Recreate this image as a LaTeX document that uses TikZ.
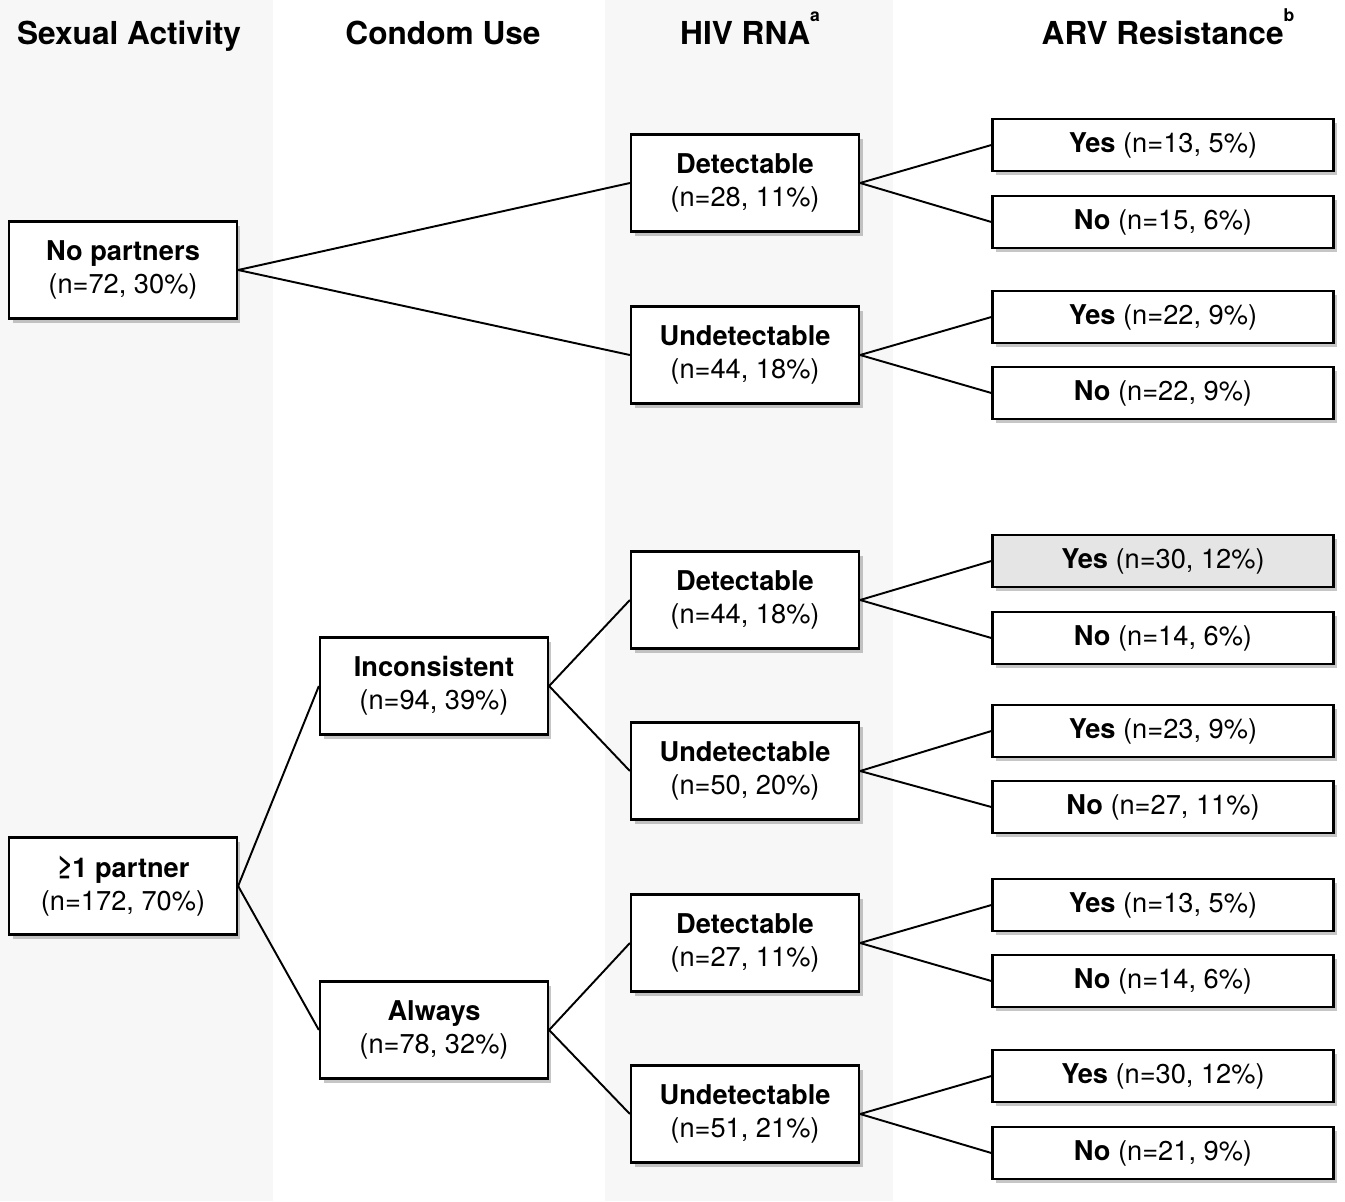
\documentclass[tikz,border=0pt]{standalone}
\usepackage{fontspec}
\setmainfont{TeX Gyre Heros}
\usetikzlibrary{shadows}

\begin{document}
\begin{tikzpicture}[x=0.02cm,y=-0.02cm,
		box/.style={draw,line width=1.3pt,fill=white,minimum width=4.56cm,minimum height=1.94cm,
			align=center,inner sep=0pt,font=\fontsize{15.5}{19}\selectfont,
			drop shadow={shadow xshift=2pt,shadow yshift=-2.5pt,opacity=.45}},
		leaf/.style={box,minimum width=6.82cm,minimum height=1.04cm},
		hi/.style={fill=gray!20},
		head/.style={anchor=base,font=\bfseries\fontsize{18}{22}\selectfont},
		link/.style={line width=1.1pt}]
				\useasboundingbox (0,0) rectangle (1345,1201);
				\fill[gray!6] (0,0) rectangle (273,1201);
				\fill[gray!6] (605,0) rectangle (893,1201);
				\node[head] (sa) at (129,44) {Sexual Activity};
				\node[head] (cu) at (443,44) {Condom Use};
				\node[head] (hiv) at (750,44) {HIV RNA\raisebox{1.3ex}{\fontsize{10}{10}\selectfont a}};
				\node[head] (arv) at (1168,44) {ARV Resistance\raisebox{1.3ex}{\fontsize{10}{10}\selectfont b}};
				% sexual activity
				\node[box] (np) at (123,270) {\textbf{No partners}\\(n=72, 30\%)};
				\node[box] (p1) at (123,886) {\textbf{≥1 partner}\\(n=172, 70\%)};
				% condom use
				\node[box] (inc) at (434,686) {\textbf{Inconsistent}\\(n=94, 39\%)};
				\node[box] (alw) at (434,1030) {\textbf{Always}\\(n=78, 32\%)};
				% hiv rna
				\node[box] (d1) at (745,183) {\textbf{Detectable}\\(n=28, 11\%)};
				\node[box] (u1) at (745,355) {\textbf{Undetectable}\\(n=44, 18\%)};
				\node[box] (d2) at (745,600) {\textbf{Detectable}\\(n=44, 18\%)};
				\node[box] (u2) at (745,771) {\textbf{Undetectable}\\(n=50, 20\%)};
				\node[box] (d3) at (745,943) {\textbf{Detectable}\\(n=27, 11\%)};
				\node[box] (u3) at (745,1114) {\textbf{Undetectable}\\(n=51, 21\%)};
				% arv resistance
				\node[leaf] (y1) at (1163,145) {\textbf{Yes} (n=13, 5\%)};
				\node[leaf] (n1) at (1163,222) {\textbf{No} (n=15, 6\%)};
				\node[leaf] (y2) at (1163,317) {\textbf{Yes} (n=22, 9\%)};
				\node[leaf] (n2) at (1163,393) {\textbf{No} (n=22, 9\%)};
				\node[leaf,hi] (y3) at (1163,561) {\textbf{Yes} (n=30, 12\%)};
				\node[leaf] (n3) at (1163,638) {\textbf{No} (n=14, 6\%)};
				\node[leaf] (y4) at (1163,731) {\textbf{Yes} (n=23, 9\%)};
				\node[leaf] (n4) at (1163,807) {\textbf{No} (n=27, 11\%)};
				\node[leaf] (y5) at (1163,905) {\textbf{Yes} (n=13, 5\%)};
				\node[leaf] (n5) at (1163,981) {\textbf{No} (n=14, 6\%)};
				\node[leaf] (y6) at (1163,1076) {\textbf{Yes} (n=30, 12\%)};
				\node[leaf] (n6) at (1163,1153) {\textbf{No} (n=21, 9\%)};
				\draw[link] (np.east) -- (d1.west);
				\draw[link] (np.east) -- (u1.west);
				\draw[link] (p1.east) -- (inc.west);
				\draw[link] (p1.east) -- (alw.west);
				\draw[link] (inc.east) -- (d2.west);
				\draw[link] (inc.east) -- (u2.west);
				\draw[link] (alw.east) -- (d3.west);
				\draw[link] (alw.east) -- (u3.west);
				\draw[link] (d1.east) -- (y1.west);
				\draw[link] (d1.east) -- (n1.west);
				\draw[link] (u1.east) -- (y2.west);
				\draw[link] (u1.east) -- (n2.west);
				\draw[link] (d2.east) -- (y3.west);
				\draw[link] (d2.east) -- (n3.west);
				\draw[link] (u2.east) -- (y4.west);
				\draw[link] (u2.east) -- (n4.west);
				\draw[link] (d3.east) -- (y5.west);
				\draw[link] (d3.east) -- (n5.west);
				\draw[link] (u3.east) -- (y6.west);
				\draw[link] (u3.east) -- (n6.west);
			\end{tikzpicture}
\end{document}
